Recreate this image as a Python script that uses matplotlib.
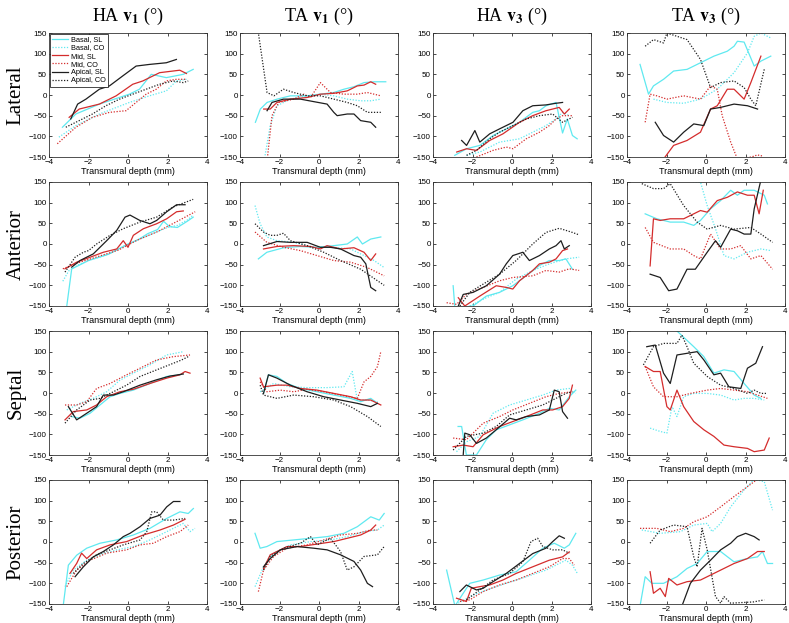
import matplotlib
matplotlib.use("Agg")
import matplotlib.pyplot as plt

plt.rcParams['font.family'] = ['Liberation Sans', 'DejaVu Sans']
plt.rcParams['mathtext.fontset'] = 'stix'

# ---------------- labels ----------------
series_labels = ['Basal, SL', 'Basal, CO', 'Mid, SL', 'Mid, CO', 'Apical, SL', 'Apical, CO']
row_labels = ['Lateral', 'Anterior', 'Septal', 'Posterior']
col_titles = [r'HA $\mathbf{v}_\mathbf{1}$ (°)', r'TA $\mathbf{v}_\mathbf{1}$ (°)',
              r'HA $\mathbf{v}_\mathbf{3}$ (°)', r'TA $\mathbf{v}_\mathbf{3}$ (°)']
x_label = 'Transmural depth (mm)'
x_ticks = [-4, -2, 0, 2, 4]
y_ticks = [-150, -100, -50, 0, 50, 100, 150]

# ---------------- data: (depth mm, angle deg) per series ----------------
# order: Basal SL, Basal CO, Mid SL, Mid CO, Apical SL, Apical CO
lateral_ha_v1 = [
    [(-3.32,-78),(-2.64,-46),(-1.45,-22),(0.07,2),(0.58,14),(1.18,50),(1.94,42),(2.8,50),(3.3,62)],
    [(-3.5,-102),(-2.64,-74),(-1.45,-46),(0.07,-18),(1.09,-2),(1.94,10),(2.45,34),(2.96,38)],
    [(-2.98,-54),(-2.47,-34),(-1.45,-22),(-0.6,-2),(0.24,26),(0.75,34),(1.6,54),(2.28,58),(2.62,60),(2.96,52)],
    [(-3.58,-118),(-2.64,-78),(-1.8,-54),(-0.94,-42),(-0.1,-38),(0.41,-18),(0.92,2),(1.43,14),(1.94,34),(2.45,38),(2.96,38)],
    [(-2.9,-58),(-2.55,-22),(-2.13,-10),(-1.45,14),(-0.94,22),(-0.27,46),(0.41,70),(1.09,74),(1.94,78),(2.45,86)],
    [(-3.15,-78),(-2.64,-66),(-1.8,-46),(-1.12,-26),(-0.43,-10),(0.24,2),(0.92,14),(1.6,26),(2.28,34),(2.79,30),(3.05,34)],
]
lateral_ta_v1 = [
    [(-3.22,-66),(-2.97,-34),(-2.63,-18),(-2.12,-10),(-1.45,-2),(-0.6,-2),(0.07,2),(0.75,6),(1.26,14),(1.77,20),(2.28,30),(2.79,32),(3.38,32)],
    [(-2.73,-146),(-2.47,-74),(-2.13,-26),(-1.45,-10),(-0.6,-2),(0.07,2),(0.75,-2),(1.43,-10),(2.11,-14),(2.62,-14),(3.13,-10)],
    [(-2.8,-34),(-2.47,-34),(-2.13,-18),(-1.45,-10),(-0.6,-6),(0.07,2),(0.75,4),(1.43,10),(1.94,22),(2.28,24),(2.62,32),(2.87,26)],
    [(-2.63,-160),(-2.38,-50),(-2.04,-18),(-1.28,-10),(-0.77,2),(-0.43,-6),(0.07,30),(0.58,6),(1.26,2),(1.94,2),(2.45,6),(3.13,-2)],
    [(-2.63,-38),(-2.38,-18),(-1.8,-10),(-0.94,-10),(-0.27,-16),(0.41,-22),(0.75,-42),(0.92,-50),(1.43,-46),(1.77,-46),(2.11,-62),(2.62,-66),(2.87,-78)],
    [(-3.1,160),(-2.63,6),(-2.28,-2),(-1.8,14),(-1.28,6),(-0.6,-2),(0.07,-2),(0.75,-10),(1.43,-18),(1.94,-26),(2.45,-42),(3.13,-42)],
]
lateral_ha_v3 = [
    [(-2.9,-146),(-2.3,-130),(-1.63,-122),(-0.96,-98),(-0.29,-82),(0.38,-66),(1.05,-42),(1.39,-38),(1.72,-26),(2.23,-18),(2.56,-92),(2.8,-58),(3.06,-98),(3.3,-106)],
    [(-2.3,-146),(-1.63,-138),(-0.63,-114),(0.38,-106),(1.05,-90),(1.72,-74),(2.23,-58),(2.56,-42),(2.9,-50)],
    [(-2.8,-138),(-2.3,-130),(-1.8,-134),(-1.13,-110),(-0.46,-94),(0.38,-66),(1.05,-50),(1.72,-38),(2.39,-30),(2.65,-46),(2.9,-34)],
    [(-1.8,-150),(-0.96,-134),(-0.29,-126),(0.05,-130),(0.72,-106),(1.39,-90),(1.89,-74),(2.23,-58),(2.56,-50),(3.06,-50)],
    [(-2.55,-110),(-2.3,-122),(-1.88,-86),(-1.63,-114),(-1.13,-94),(-0.63,-82),(0.05,-66),(0.55,-38),(1.05,-26),(1.72,-24),(2.23,-20),(2.56,-18)],
    [(-2.3,-146),(-1.8,-134),(-1.13,-106),(-0.63,-90),(0.05,-74),(0.72,-58),(1.39,-50),(2.06,-46),(2.56,-66),(3.06,-54)],
]
lateral_ta_v3 = [
    [(-3.34,74),(-2.91,2),(-2.66,22),(-2.15,38),(-1.64,58),(-0.96,62),(-0.28,78),(0.4,94),(1.08,106),(1.42,118),(1.59,130),(1.93,128),(2.44,70),(2.78,82),(3.28,94)],
    [(-2.66,-10),(-1.98,-18),(-1.13,-20),(-0.28,-10),(0.57,14),(1.42,54),(2.1,102),(2.44,142),(2.78,150),(3.28,138)],
    [(-2.15,-155),(-1.64,-122),(-0.96,-110),(-0.28,-90),(0.23,-34),(0.57,-26),(1.08,14),(1.42,14),(1.93,-10),(2.27,30),(2.78,94)],
    [(-3.08,-66),(-2.83,2),(-2.49,-2),(-1.98,-10),(-1.13,-2),(-0.28,-10),(0.23,22),(0.57,14),(0.82,-50),(1.25,-114),(1.59,-155),(2.3,-150),(2.6,-145),(2.9,-148)],
    [(-2.57,-66),(-2.15,-98),(-1.64,-114),(-1.13,-90),(-0.62,-70),(-0.11,-74),(0.23,-34),(0.74,-30),(1.42,-22),(2.1,-26),(2.61,-34)],
    [(-3.08,118),(-2.66,134),(-2.15,126),(-1.98,150),(-0.96,134),(-0.28,86),(0.23,18),(0.74,30),(1.42,34),(1.93,18),(2.27,-10),(2.52,-26),(2.95,62)],
]
anterior_ha_v1 = [
    [(-3.1,-150),(-2.85,-60),(-2.5,-52),(-2,-40),(-1,-25),(0,0),(0.5,10),(1,25),(1.5,35),(1.8,55),(2.1,42),(2.5,40),(3.0,55),(3.3,65)],
    [(-3.3,-90),(-3,-65),(-2.5,-50),(-2,-40),(-1,-25),(0,0),(1,20),(2,40),(2.5,45),(3,58),(3.3,70)],
    [(-3.19,-60),(-2.6,-44),(-1.92,-32),(-1.25,-20),(-0.57,-12),(-0.24,8),(0.0,-8),(0.27,21),(0.78,37),(1.45,49),(1.96,61),(2.46,78),(2.8,80)],
    [(-3.3,-60),(-2.5,-45),(-1.5,-30),(-0.5,-15),(0.5,10),(1.5,30),(2.5,55),(3.4,78)],
    [(-2.85,-56),(-2.43,-40),(-1.76,-24),(-1.08,8),(-0.57,33),(-0.15,65),(0.1,70),(0.6,57),(1.11,49),(1.45,57),(1.96,78),(2.46,95),(2.89,95)],
    [(-3.19,-68),(-2.68,-32),(-2.26,-20),(-2.0,-16),(-1.59,0),(-0.91,21),(-0.24,37),(0.6,53),(1.45,65),(2.3,90),(3.3,108)],
]
anterior_ta_v1 = [
    [(-3.07,-36),(-2.64,-20),(-1.79,-9),(-0.94,-6),(-0.1,-8),(0.75,-4),(1.43,0),(1.94,17),(2.2,0),(2.62,12),(3.13,17)],
    [(-3.24,93),(-2.98,49),(-2.64,17),(-2.13,8),(-1.28,4),(-0.27,-8),(0.75,-8),(1.6,-12),(2.28,-28),(2.79,-40),(3.3,-57)],
    [(-2.81,-12),(-2.13,-6),(-1.28,-4),(-0.43,-6),(0.07,-12),(0.41,-4),(1.09,-12),(1.77,-9),(2.28,-20),(2.62,-40),(2.87,-24)],
    [(-3.24,29),(-2.64,4),(-1.79,-8),(-0.94,-16),(-0.1,-28),(0.75,-40),(1.6,-44),(2.45,-57),(3.3,-77)],
    [(-2.81,-4),(-2.13,6),(-1.45,4),(-0.6,4),(0.07,-8),(0.58,-8),(1.09,-12),(1.77,-28),(2.11,-32),(2.37,-48),(2.62,-105),(2.87,-113)],
    [(-3.24,49),(-2.81,29),(-2.47,21),(-2.13,21),(-1.8,26),(-1.45,8),(-0.6,-4),(0.24,-20),(1.09,-40),(2.11,-61),(3.3,-100)],
]
anterior_ha_v3 = [
    [(-2.98,-101),(-2.89,-155),(-1.97,-150),(-1.3,-126),(-0.63,-117),(0.04,-101),(0.71,-77),(1.39,-52),(1.89,-40),(2.39,-40),(2.73,-36),(3.06,-61)],
    [(-2.14,-150),(-1.3,-130),(-0.63,-117),(0.21,-85),(1.05,-64),(1.89,-48),(2.73,-36),(3.4,-32)],
    [(-2.72,-130),(-2.39,-150),(-1.63,-126),(-0.8,-101),(-0.29,-105),(0.04,-109),(0.38,-89),(1.05,-64),(1.39,-48),(1.89,-44),(2.23,-36),(2.56,-16),(2.81,-12)],
    [(-3.31,-142),(-2.81,-146),(-2.31,-122),(-1.46,-105),(-0.63,-89),(0.04,-81),(1.05,-77),(1.72,-64),(2.39,-68),(2.9,-60),(3.4,-64)],
    [(-2.72,-150),(-2.47,-122),(-1.97,-117),(-1.3,-101),(-0.63,-73),(-0.29,-48),(0.04,-28),(0.55,-20),(0.88,-40),(1.39,-28),(1.89,-12),(2.23,-4),(2.48,8),(2.65,-12),(2.9,-4)],
    [(-2.64,-150),(-2.14,-117),(-1.46,-97),(-0.63,-73),(0.21,-40),(1.05,0),(1.72,28),(2.39,38),(3.06,28),(3.4,22)],
]
anterior_ta_v3 = [
    [(-3.08,73),(-2.49,61),(-1.81,53),(-1.13,53),(-0.62,45),(-0.28,57),(0.23,85),(0.74,105),(1.25,130),(1.59,118),(1.93,130),(2.44,130),(2.95,118),(3.11,97)],
    [(-0.96,152),(-0.28,150),(0.06,93),(0.48,37),(0.91,-28),(1.42,-36),(2.1,-20),(2.78,-12),(3.28,-16)],
    [(-2.83,-53),(-2.66,61),(-2.32,57),(-1.81,61),(-1.13,61),(-0.79,69),(-0.28,81),(0.06,77),(0.57,105),(1.08,113),(1.59,126),(2.1,118),(2.44,118),(2.69,73),(2.9,130)],
    [(-3.08,40),(-2.66,4),(-1.81,-12),(-1.13,-12),(-0.62,-28),(-0.28,-36),(0.23,24),(0.74,-12),(1.25,-12),(1.76,-4),(2.27,-36),(2.78,-28),(3.37,-61)],
    [(-2.83,-73),(-2.32,-81),(-1.89,-113),(-1.47,-109),(-0.96,-61),(-0.54,-61),(0.06,-20),(0.48,8),(0.74,-8),(1.25,36),(1.59,32),(1.93,24),(2.27,24),(2.44,85),(2.78,155)],
    [(-3.25,146),(-2.66,134),(-2.15,134),(-1.81,146),(-1.13,93),(-0.45,53),(0.06,36),(0.74,45),(1.42,36),(2.27,40),(2.78,24),(3.37,4)],
]
septal_ha_v1 = [
    [(-2.85,-57),(-2.43,-61),(-1.92,-49),(-1.42,-29),(-0.91,-9),(-0.41,-1),(0.27,7),(1.11,23),(1.96,40),(2.63,44)],
    [(-3.1,-41),(-2.43,-25),(-1.76,-13),(-1.08,3),(-0.41,31),(0.27,48),(1.11,68),(1.96,92),(2.8,100)],
    [(-3.19,-65),(-2.77,-45),(-2.09,-41),(-1.59,-29),(-1.08,-9),(-0.41,3),(0.27,9),(1.11,23),(1.96,36),(2.63,44),(2.89,52),(3.14,48)],
    [(-3.19,-29),(-2.6,-29),(-2.09,-21),(-1.59,11),(-0.91,23),(-0.07,44),(0.61,60),(1.45,80),(2.3,88),(3.14,92)],
    [(-3.02,-33),(-2.6,-65),(-2.09,-49),(-1.59,-33),(-1.25,-5),(-0.74,-5),(-0.24,3),(0.61,19),(1.45,32),(2.13,41),(2.8,46)],
    [(-3.19,-73),(-2.6,-41),(-1.92,-17),(-1.42,-13),(-0.74,3),(-0.07,19),(0.61,40),(1.45,56),(2.3,72),(2.72,80),(3.05,88)],
]
septal_ta_v1 = [
    [(-2.81,-1),(-2.56,44),(-2.13,40),(-1.62,23),(-0.94,11),(-0.1,3),(0.75,-5),(1.6,-13),(2.11,-21),(2.62,-13),(2.96,-25)],
    [(-2.98,3),(-2.3,23),(-1.45,15),(-0.6,13),(0.41,13),(1.26,15),(1.68,52),(1.94,-17),(2.45,-17),(2.96,-21)],
    [(-2.98,36),(-2.81,15),(-2.13,19),(-1.62,19),(-0.94,11),(-0.1,7),(0.75,-1),(1.6,-9),(2.11,-17),(2.62,-17),(3.13,-29)],
    [(-2.98,27),(-2.64,3),(-1.96,7),(-1.28,3),(-0.6,9),(0.24,3),(1.09,-5),(1.94,-13),(2.28,27),(2.62,40),(2.96,64),(3.13,100)],
    [(-2.81,-1),(-2.56,44),(-2.13,36),(-1.45,19),(-0.6,3),(0.24,-9),(1.09,-17),(1.94,-25),(2.62,-33),(2.96,-25)],
    [(-2.98,19),(-2.81,-5),(-2.13,-13),(-1.28,-5),(-0.27,-9),(0.75,-17),(1.6,-33),(2.45,-57),(3.13,-81)],
]
septal_ha_v3 = [
    [(-2.73,-81),(-2.55,-81),(-2.31,-150),(-1.8,-150),(-1.3,-113),(-0.8,-89),(-0.12,-77),(0.55,-65),(1.39,-49),(1.89,-37),(2.39,-41),(2.9,-9),(3.23,7)],
    [(-2.81,-142),(-2.31,-118),(-1.63,-105),(-0.96,-49),(-0.12,-29),(0.72,-17),(1.56,-5),(2.23,7),(2.9,11),(3.23,-1)],
    [(-2.98,-130),(-2.47,-126),(-1.97,-130),(-1.46,-101),(-0.63,-81),(0.04,-69),(0.72,-57),(1.56,-41),(2.06,-41),(2.56,-33),(2.9,-13),(3.06,19)],
    [(-2.98,-109),(-2.31,-113),(-1.46,-73),(-0.63,-57),(0.04,-41),(0.88,-25),(1.72,-9),(2.39,-1),(3.06,3)],
    [(-2.47,-150),(-2.39,-97),(-2.14,-101),(-1.8,-122),(-1.3,-109),(-0.8,-89),(-0.12,-61),(0.21,-65),(0.72,-57),(1.39,-53),(1.89,-41),(2.14,7),(2.39,3),(2.56,-45),(2.81,-61)],
    [(-2.98,-138),(-2.31,-105),(-1.46,-97),(-0.8,-81),(-0.12,-53),(0.72,-41),(1.56,-29),(2.39,-9),(2.73,-1),(3.06,3)],
]
septal_ta_v3 = [
    [(-1.6,155),(-1.47,150),(-0.62,112),(-0.11,88),(0.4,48),(0.91,56),(1.42,52),(1.93,23),(2.44,-5),(2.78,-13)],
    [(-2.83,-85),(-2.32,-93),(-1.98,-97),(-1.72,-33),(-1.47,-57),(-1.13,-9),(-0.62,-1),(0.06,-1),(0.74,-5),(1.42,-17),(1.93,-13),(2.44,-13),(2.95,-17)],
    [(-3.08,64),(-2.66,52),(-2.32,52),(-1.98,-33),(-1.81,-41),(-1.47,7),(-1.13,-33),(-0.62,-69),(-0.11,-89),(0.4,-105),(0.91,-126),(1.42,-130),(2.1,-134),(2.44,-142),(2.95,-138),(3.2,-109)],
    [(-3.08,64),(-2.66,15),(-2.15,-9),(-1.47,-9),(-0.79,-1),(0.06,7),(0.74,11),(1.42,7),(2.1,3),(2.61,-5),(3.11,-13)],
    [(-3.0,112),(-2.57,116),(-2.15,48),(-1.81,23),(-1.47,92),(-0.96,96),(-0.45,100),(-0.11,80),(0.4,44),(0.74,48),(1.16,15),(1.76,11),(2.1,60),(2.52,72),(2.86,112)],
    [(-3.17,68),(-2.66,112),(-2.15,120),(-1.47,120),(-1.22,140),(-0.96,112),(-0.62,72),(0.06,40),(0.74,19),(1.42,11),(2.1,-1),(2.44,7),(2.78,-1),(3.1,-1)],
]
posterior_ha_v1 = [
    [(-3.27,-150),(-3.02,-56),(-2.6,-32),(-2.09,-15),(-1.42,-3),(-0.57,5),(0.27,17),(1.11,33),(1.96,57),(2.63,73),(3.05,69),(3.31,81)],
    [(-3.19,-108),(-2.77,-68),(-2.09,-44),(-1.42,-31),(-0.57,-19),(0.27,-11),(1.11,5),(1.96,25),(2.8,45),(3.14,25),(3.39,33)],
    [(-2.94,-76),(-2.6,-52),(-2.35,-27),(-2.09,-40),(-1.59,-19),(-0.91,-7),(-0.07,1),(0.78,17),(1.62,29),(2.3,41),(2.89,55)],
    [(-3.1,-108),(-2.6,-68),(-1.92,-44),(-1.08,-27),(-0.07,-19),(0.61,-7),(1.28,-3),(1.96,13),(2.63,25),(3.05,41)],
    [(-2.68,-84),(-2.26,-60),(-1.76,-36),(-1.25,-23),(-0.74,-7),(-0.24,13),(0.1,21),(0.61,37),(1.11,57),(1.62,65),(1.96,85),(2.3,98),(2.63,98)],
    [(-2.77,-76),(-2.26,-52),(-1.59,-31),(-0.91,-19),(-0.24,-7),(0.61,5),(0.95,25),(1.2,73),(1.45,73),(1.79,53),(2.3,53),(2.89,57)],
]
posterior_ta_v1 = [
    [(-3.24,21),(-2.98,-15),(-2.64,-11),(-2.13,1),(-1.28,5),(-0.43,9),(0.41,13),(1.26,21),(1.94,37),(2.62,61),(3.05,53),(3.3,69)],
    [(-3.24,-108),(-2.81,-60),(-2.3,-27),(-1.45,-7),(-0.43,1),(0.58,5),(1.43,13),(2.28,25),(2.96,29),(3.3,41)],
    [(-2.81,-64),(-2.47,-31),(-2.13,-23),(-1.62,-11),(-0.94,-11),(-0.1,-5),(0.75,1),(1.43,9),(2.11,17),(2.62,29),(2.87,41)],
    [(-3.07,-120),(-2.81,-68),(-2.3,-35),(-1.62,-15),(-0.6,-7),(0.24,5),(1.09,17),(1.94,21),(2.62,29),(2.96,29)],
    [(-2.81,-60),(-2.47,-40),(-1.96,-19),(-1.11,-11),(-0.27,-15),(0.41,-19),(1.09,-31),(1.77,-47),(2.11,-68),(2.45,-100),(2.71,-108)],
    [(-2.81,-68),(-2.47,-35),(-1.79,-15),(-0.94,-3),(-0.43,13),(-0.1,-7),(0.58,9),(1.09,-23),(1.43,-68),(1.77,-60),(2.28,-35),(2.96,-31),(3.3,-11)],
]
posterior_ha_v3 = [
    [(-3.31,-68),(-2.89,-155),(-2.47,-124),(-2.14,-100),(-1.46,-92),(-0.63,-80),(0.21,-72),(0.88,-44),(1.56,-15),(2.14,-3),(2.65,-15),(2.9,-7),(3.23,21)],
    [(-2.72,-148),(-2.14,-132),(-1.3,-116),(-0.29,-100),(0.72,-84),(1.72,-68),(2.73,-44),(3.06,-56),(3.31,-76)],
    [(-2.81,-136),(-2.31,-144),(-2.06,-112),(-1.63,-108),(-1.13,-104),(-0.46,-92),(0.21,-76),(1.05,-60),(1.89,-44),(2.56,-36),(2.9,-24)],
    [(-2.64,-144),(-2.14,-140),(-1.46,-120),(-0.63,-104),(0.21,-92),(1.05,-76),(1.89,-60),(2.56,-40),(2.9,-40),(3.15,-56)],
    [(-2.64,-120),(-2.31,-104),(-1.8,-116),(-1.46,-112),(-0.96,-96),(-0.29,-76),(0.38,-52),(1.05,-28),(1.72,-15),(2.06,1),(2.39,15),(2.65,9)],
    [(-2.31,-140),(-1.63,-116),(-0.96,-92),(-0.12,-76),(0.55,-48),(0.96,1),(1.3,9),(1.56,-11),(2.06,-19),(2.56,-19),(2.9,-27)],
]
posterior_ta_v3 = [
    [(-3.34,-155),(-3.08,-84),(-2.74,-100),(-2.15,-100),(-1.47,-84),(-0.96,-64),(-0.45,-52),(0.06,-23),(0.74,-23),(1.42,-48),(2.1,-40),(2.61,-36),(2.86,-23),(3.11,-52),(3.37,-52)],
    [(-3.25,29),(-2.32,21),(-1.3,25),(-0.62,41),(0.06,45),(0.31,25),(0.74,45),(1.25,85),(1.93,126),(2.44,152),(2.95,146),(3.37,77)],
    [(-2.83,-72),(-2.66,-124),(-2.32,-112),(-2.06,-132),(-1.89,-88),(-1.47,-104),(-0.96,-96),(-0.28,-92),(0.23,-80),(0.74,-68),(1.42,-52),(2.1,-40),(2.61,-23),(2.95,-23)],
    [(-3.34,33),(-2.49,33),(-1.81,25),(-1.13,33),(-0.62,49),(0.06,61),(0.74,85),(1.42,110),(2.1,134),(2.61,152)],
    [(-1.22,-155),(-0.79,-100),(-0.28,-68),(0.23,-44),(0.74,-19),(1.25,-3),(1.59,13),(2.01,21),(2.44,13),(2.69,5)],
    [(-2.83,-3),(-2.32,29),(-1.64,41),(-0.96,37),(-0.62,-36),(-0.45,-60),(-0.2,33),(0.06,-19),(0.48,-132),(0.74,-148),(0.91,-132),(1.25,-148),(2.4,-145),(2.95,-140)],
]

panels = [
    [lateral_ha_v1, lateral_ta_v1, lateral_ha_v3, lateral_ta_v3],
    [anterior_ha_v1, anterior_ta_v1, anterior_ha_v3, anterior_ta_v3],
    [septal_ha_v1, septal_ta_v1, septal_ha_v3, septal_ta_v3],
    [posterior_ha_v1, posterior_ta_v1, posterior_ha_v3, posterior_ta_v3],
]

# ---------------- styles ----------------
series_colors = ['#5fe9f0', '#5fe9f0', '#d42c2c', '#d42c2c', '#1e1e1e', '#1e1e1e']
series_styles = ['-', (0, (1, 1.3)), '-', (0, (1, 1.3)), '-', (0, (1, 1.3))]

W, H = 789, 623
fig = plt.figure(figsize=(W / 100, H / 100), dpi=100)
col_left = [49, 240, 433, 627]
row_top = [33, 182, 331, 480]
aw, ah = 158, 124

for r in range(4):
    for c in range(4):
        ax = fig.add_axes([col_left[c] / W, 1 - (row_top[r] + ah) / H, aw / W, ah / H])
        for k, ser in enumerate(panels[r][c]):
            xs = [p[0] for p in ser]
            ys = [p[1] for p in ser]
            ax.plot(xs, ys, color=series_colors[k], linestyle=series_styles[k],
                    linewidth=0.9, label=series_labels[k])
        ax.set_xlim(-4, 4)
        ax.set_ylim(-150, 150)
        ax.set_xticks(x_ticks)
        ax.set_yticks(y_ticks)
        ax.tick_params(direction='in', length=2.5, width=0.5, labelsize=5.8,
                       top=True, right=True, pad=1.5)
        for s in ax.spines.values():
            s.set_linewidth(0.6)
            s.set_color('#333333')
        ax.set_xlabel(x_label, fontsize=6.5, labelpad=0.5)
        if r == 0:
            ax.set_title(col_titles[c], fontsize=13, family=['Liberation Serif', 'DejaVu Serif'], pad=9)
        if r == 0 and c == 0:
            leg = ax.legend(loc='upper left', fontsize=5.3, handlelength=2.2,
                            labelspacing=0.15, borderpad=0.3, borderaxespad=0.1,
                            handletextpad=0.4, fancybox=False, framealpha=1)
            leg.get_frame().set_edgecolor('black')
            leg.get_frame().set_linewidth(0.5)
    yc = 1 - (row_top[r] + ah / 2) / H
    fig.text(16 / W, yc, row_labels[r], rotation=90, ha='center', va='center',
             fontsize=15, family=['Liberation Serif', 'DejaVu Serif'])

fig.savefig('out.png', dpi=100)
